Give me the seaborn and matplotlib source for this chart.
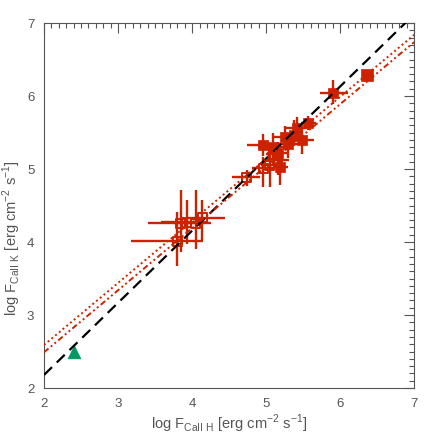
import numpy as np
import pandas as pd
import matplotlib
matplotlib.use("Agg")
import matplotlib.pyplot as plt
import seaborn as sns
from matplotlib.ticker import MultipleLocator

# ---- data ----
logH = [3.80, 3.85, 3.93, 4.05, 4.14, 4.74, 4.96, 5.05, 5.16, 5.10,
        5.09, 5.16, 5.19, 5.26, 5.37, 5.49, 5.42, 5.57, 5.90, 4.96, 5.30, 6.36]
logK = [4.01, 4.26, 4.27, 4.26, 4.33, 4.89, 5.01, 5.05, 5.12, 5.20,
        5.30, 5.22, 5.03, 5.44, 5.47, 5.40, 5.56, 5.63, 6.04, 5.33, 5.35, 6.29]
xerr_lo = [0.62, 0.45, 0.35, 0.30, 0.20, 0.20, 0.15, 0.12, 0.15, 0.10,
           0.20, 0.15, 0.10, 0.15, 0.12, 0.15, 0.15, 0.10, 0.17, 0.22, 0.15, 0.0]
xerr_hi = [0.35, 0.30, 0.25, 0.20, 0.30, 0.18, 0.15, 0.12, 0.15, 0.10,
           0.15, 0.15, 0.10, 0.15, 0.12, 0.15, 0.12, 0.10, 0.20, 0.22, 0.15, 0.0]
yerr_lo = [0.34, 0.40, 0.30, 0.35, 0.30, 0.12, 0.25, 0.30, 0.20, 0.15,
           0.15, 0.15, 0.25, 0.15, 0.15, 0.20, 0.15, 0.10, 0.15, 0.15, 0.20, 0.0]
yerr_hi = [0.40, 0.45, 0.30, 0.45, 0.25, 0.10, 0.15, 0.15, 0.15, 0.15,
           0.20, 0.15, 0.15, 0.15, 0.20, 0.15, 0.15, 0.10, 0.18, 0.15, 0.15, 0.0]
kind = ["open"] * 10 + ["filled"] * 11 + ["big"]

# green triangle point
tri_x = [2.40]
tri_y = [2.50]

# lines: dashed near 1:1 line and two dotted fits
line_x = [2.0, 7.0]
dash_slope, dash_icpt = 0.988, 0.204
fit1_slope, fit1_icpt = 0.85, 0.89
fit2_slope, fit2_icpt = 0.85, 0.79

red = "#cc2200"
green = "#009966"
grey = "#555555"

sns.set_style("white")
plt.rcParams["font.family"] = ["Liberation Sans", "DejaVu Sans"]
plt.rcParams["mathtext.fontset"] = "custom"
plt.rcParams["mathtext.rm"] = "Liberation Sans"

fig = plt.figure(figsize=(4.36, 4.36), dpi=100)
ax = fig.add_axes([0.101, 0.110, 0.849, 0.837])

df = pd.DataFrame({"x": logH, "y": logK, "kind": kind})

# error bars
ax.errorbar(logH, logK, xerr=[xerr_lo, xerr_hi], yerr=[yerr_lo, yerr_hi],
            fmt="none", ecolor=red, elinewidth=1.7, capsize=0, zorder=3)

sub = df[df.kind == "open"]
sns.scatterplot(data=sub, x="x", y="y", marker="s", s=42, facecolor="none",
                edgecolor=red, linewidth=1.4, ax=ax, zorder=4)
sub = df[df.kind == "filled"]
sns.scatterplot(data=sub, x="x", y="y", marker="s", s=50, color=red,
                edgecolor=red, linewidth=0.5, ax=ax, zorder=4)
sub = df[df.kind == "big"]
sns.scatterplot(data=sub, x="x", y="y", marker="s", s=80, color=red,
                edgecolor=red, linewidth=0.5, ax=ax, zorder=4)

sns.scatterplot(x=tri_x, y=tri_y, marker="^", s=80, color=green,
                edgecolor=green, ax=ax, zorder=4)

lx = np.array(line_x)
sns.lineplot(x=lx, y=dash_slope * lx + dash_icpt, color="black", lw=1.6,
             ax=ax, zorder=5).lines[-1].set_dashes([5, 3])
l1 = sns.lineplot(x=lx, y=fit1_slope * lx + fit1_icpt, color=red, lw=1.4,
                  ax=ax, zorder=5).lines[-1]
l1.set_dashes([1, 1.5])
l2 = sns.lineplot(x=lx, y=fit2_slope * lx + fit2_icpt, color=red, lw=1.4,
                  ax=ax, zorder=5).lines[-1]
l2.set_dashes([3, 1.5, 1, 1.5, 1, 1.5])

ax.set_xlim(2, 7)
ax.set_ylim(2, 7)
ax.xaxis.set_major_locator(MultipleLocator(1))
ax.yaxis.set_major_locator(MultipleLocator(1))
ax.xaxis.set_minor_locator(MultipleLocator(0.1))
ax.yaxis.set_minor_locator(MultipleLocator(0.1))
ax.tick_params(which="both", direction="in", top=True, right=True,
               color=grey, labelcolor=grey, labelsize=9.5, width=0.8)
ax.tick_params(which="major", length=7, pad=7)
ax.tick_params(which="minor", length=3.5)
for s in ax.spines.values():
    s.set_color(grey)
    s.set_linewidth(0.8)

ax.set_xlabel(r"log F$_{\rm CaII\ H}$ [erg cm$^{-2}$ s$^{-1}$]", color=grey,
              fontsize=10.5, labelpad=2)
ax.set_ylabel(r"log F$_{\rm CaII\ K}$ [erg cm$^{-2}$ s$^{-1}$]", color=grey, fontsize=10.5)
ax.yaxis.set_label_coords(-0.057, 0.41)

fig.savefig("out.png", dpi=100)
